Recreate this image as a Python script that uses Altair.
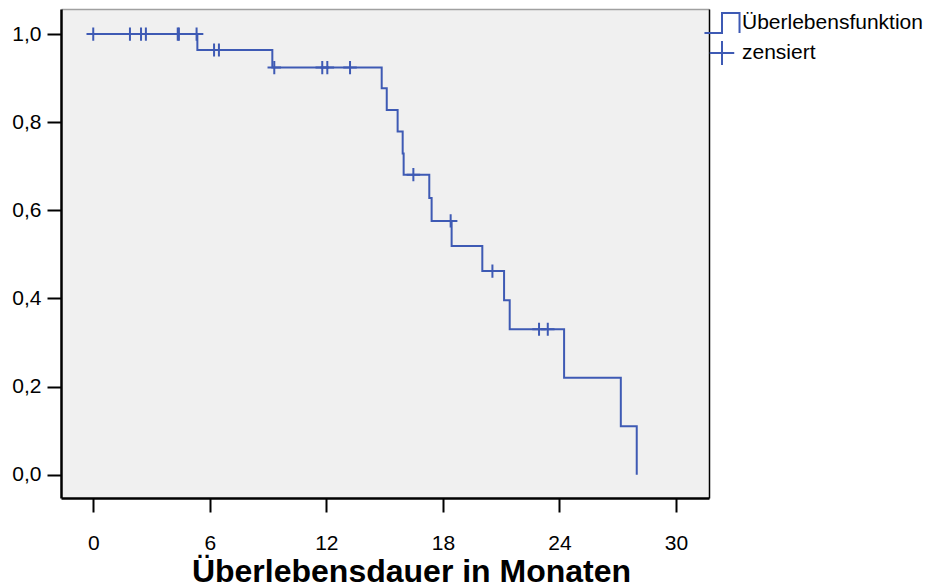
import altair as alt
import pandas as pd

BLUE = "#3e5ab4"
FONT = "Liberation Sans"

# Kaplan-Meier step function (time in months, survival)
step_time = [0.0, 5.36, 9.22, 14.85, 15.11, 15.67, 15.93, 15.98, 17.30, 17.42,
             18.45, 20.03, 21.15, 21.44, 24.24, 27.16, 27.98]
step_surv = [1.0, 0.964, 0.924, 0.877, 0.828, 0.779, 0.729, 0.681, 0.628, 0.576,
             0.519, 0.462, 0.396, 0.330, 0.220, 0.110, 0.0]

# censored observations
cens_time = [0.0, 1.89, 2.46, 2.71, 4.35, 4.41, 5.32, 6.22, 6.47, 9.32, 11.79,
             12.05, 13.22, 16.48, 18.40, 20.55, 22.95, 23.40]
cens_surv = [1.0, 1.0, 1.0, 1.0, 1.0, 1.0, 1.0, 0.964, 0.964, 0.924, 0.924,
             0.924, 0.924, 0.681, 0.576, 0.462, 0.330, 0.330]

x_ticks = [0, 6, 12, 18, 24, 30]
y_ticks = [0.0, 0.2, 0.4, 0.6, 0.8, 1.0]
legend_labels = ["Überlebensfunktion", "zensiert"]

STEP_PATH = "M-1.46,0.83L0,0.83L0,-0.83L1.46,-0.83L1.46,0.83"
PLUS_PATH = "M-1.02,0L1.02,0M0,-0.99L0,0.99"

line_df = pd.DataFrame({"t": step_time, "s": step_surv})
cens_df = pd.DataFrame({"t": cens_time, "s": cens_surv,
                        "k": [legend_labels[1]] * len(cens_time)})

xs = alt.Scale(domain=[-1.66, 31.7], nice=False, zero=False)
ys = alt.Scale(domain=[-0.053, 1.057], nice=False, zero=False)

x_axis = alt.Axis(values=x_ticks, grid=False, domainColor="black", domainWidth=2.5,
                  tickColor="black", tickWidth=2, tickSize=14,
                  labelFont=FONT, labelFontSize=21, labelColor="black", labelPadding=20,
                  title="Überlebensdauer in Monaten", titleFont=FONT, titleFontSize=32,
                  titleFontWeight="bold", titleColor="black", titleX=350, titleY=83,
                  titleAlign="center", titleBaseline="alphabetic")
y_axis = alt.Axis(values=y_ticks, grid=False, domainColor="black", domainWidth=2.5,
                  tickColor="black", tickWidth=2, tickSize=14,
                  labelFont=FONT, labelFontSize=21, labelColor="black", labelPadding=6,
                  labelExpr="replace(format(datum.value, '.1f'), '.', ',')", title=None)

frame = alt.Chart(line_df).mark_line(opacity=0).encode(
    x=alt.X("t:Q", scale=xs, axis=alt.Axis(orient="top", labels=False, ticks=False, grid=False,
                                            domainColor="#a0a0a0", domainWidth=1.5, title=None)),
    y=alt.Y("s:Q", scale=ys, axis=alt.Axis(orient="right", labels=False, ticks=False, grid=False,
                                            domainColor="black", domainWidth=1.5, title=None)),
)

line = alt.Chart(line_df).mark_line(interpolate="step-after", color=BLUE, strokeWidth=2).encode(
    x=alt.X("t:Q", scale=xs, axis=x_axis),
    y=alt.Y("s:Q", scale=ys, axis=y_axis),
)

cens = alt.Chart(cens_df).mark_point(color=BLUE, filled=False, strokeWidth=2, size=175, opacity=1).encode(
    x=alt.X("t:Q", scale=xs, axis=None),
    y=alt.Y("s:Q", scale=ys, axis=None),
    shape=alt.Shape("k:N", scale=alt.Scale(domain=legend_labels, range=[STEP_PATH, PLUS_PATH]),
                    legend=alt.Legend(orient="none", legendX=648, legendY=1, title=None,
                                      symbolSize=576, symbolStrokeWidth=2,
                                      symbolStrokeColor=BLUE, symbolFillColor="transparent",
                                      labelFont=FONT, labelFontSize=21, labelColor="black",
                                      labelOffset=7, labelLimit=400, rowPadding=0, padding=0)),
)

chart = alt.layer(frame, line, cens).resolve_axis(x="independent", y="independent").properties(
    width=648, height=489,
    autosize=alt.AutoSizeParams(type="none"),
    padding={"left": 61, "top": 9, "right": 219, "bottom": 90},
    background="white",
).configure_view(fill="#f0f0f0", stroke="transparent")

chart.save("out.html", embed_options={"renderer": "svg", "actions": False})
